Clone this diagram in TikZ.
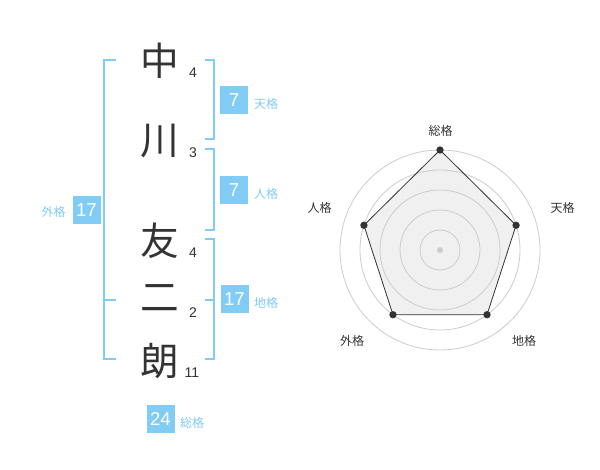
\documentclass[tikz,border=0pt]{standalone}
\usepackage{fontspec}
\setmainfont{Liberation Sans}
\newfontfamily\jp{Noto Sans CJK JP}
\definecolor{blu}{HTML}{80CCF5}
\definecolor{ink}{HTML}{333333}
\definecolor{ring}{HTML}{CCCCCC}
\definecolor{area}{HTML}{F0F0F0}
\begin{document}
\begin{tikzpicture}[x=0.75pt,y=-0.75pt,
  kanji/.style={font=\jp\fontsize{29pt}{29pt}\selectfont, text=ink, inner sep=0},
  cnt/.style={font=\fontsize{10.5pt}{10.5pt}\selectfont, text=ink, inner sep=0},
  badge/.style={fill=blu, text=white, minimum width=21pt, minimum height=21pt, inner sep=0, font=\fontsize{14pt}{14pt}\selectfont},
  tag/.style={font=\jp\fontsize{9pt}{9pt}\selectfont, text=blu, inner sep=0},
  axlabel/.style={font=\jp\fontsize{9pt}{9pt}\selectfont, text=ink, inner sep=0},
  brk/.style={draw=blu, line width=1.5pt},
  ringline/.style={draw=ring, line width=0.6pt},
  dot/.style={circle, fill=ink, inner sep=0, minimum size=5.5pt}]
\useasboundingbox (0,0) rectangle (600,470);
\fill[white] (0,0) rectangle (600,470);

% name characters
\node[kanji] (k1) at (160,61) {中};
\node[kanji] (k2) at (160,141) {川};
\node[kanji] (k3) at (160,241) {友};
\node[kanji] (k4) at (160,298) {二};
\node[kanji] (k5) at (160,361) {朗};

% stroke counts
\node[cnt] (c1) at (193,73) {4};
\node[cnt] (c2) at (193,153) {3};
\node[cnt] (c3) at (193,253) {4};
\node[cnt] (c4) at (193,313) {2};
\node[cnt] (c5) at (192,373) {11};

% brackets
\draw[brk] (116,60) -- (104,60) -- (104,359) -- (116,359);
\draw[brk] (104,300) -- (116,300);
\draw[brk] (205,60) -- (214,60) -- (214,139) -- (205,139);
\draw[brk] (205,149) -- (214,149) -- (214,230) -- (205,230);
\draw[brk] (205,239) -- (214,239) -- (214,359) -- (205,359);
\draw[brk] (205,300) -- (214,300);

% badges and tags
\node[badge] (b1) at (234,100.5) {7};
\node[tag] (t1) at (266,104) {天格};
\node[badge] (b2) at (234,190) {7};
\node[tag] (t2) at (266,194) {人格};
\node[badge] (b3) at (234.5,299.5) {17};
\node[tag] (t3) at (266,303) {地格};
\node[badge] (b4) at (86.5,210) {17};
\node[tag] (t4) at (53.5,212) {外格};
\node[badge] (b5) at (160.5,419) {24};
\node[tag] (t5) at (192,423) {総格};

% radar chart
\coordinate (ctr) at (440,250);
\coordinate (p1) at (440,150);
\coordinate (p2) at ({440+80*cos(18)},{250-80*sin(18)});
\coordinate (p3) at ({440+80*cos(54)},{250+80*sin(54)});
\coordinate (p4) at ({440-80*cos(54)},{250+80*sin(54)});
\coordinate (p5) at ({440-80*cos(18)},{250-80*sin(18)});
\fill[area] (p1) -- (p2) -- (p3) -- (p4) -- (p5) -- cycle;
\foreach \r in {20,40,60,80,100} {
  \draw[ringline] (ctr) circle[radius=\r];
}
\draw[ink, line width=0.6pt] (p1) -- (p2) -- (p3) -- (p4) -- (p5) -- cycle;
\fill[ring] (ctr) circle[radius=3];
\node[dot] (d1) at (p1) {};
\node[dot] (d2) at (p2) {};
\node[dot] (d3) at (p3) {};
\node[dot] (d4) at (p4) {};
\node[dot] (d5) at (p5) {};

\node[axlabel] (a1) at (440.5,131) {総格};
\node[axlabel] (a2) at (562.5,208) {天格};
\node[axlabel] (a3) at (524,341) {地格};
\node[axlabel] (a4) at (352,341) {外格};
\node[axlabel] (a5) at (319.5,208) {人格};
\end{tikzpicture}
\end{document}
